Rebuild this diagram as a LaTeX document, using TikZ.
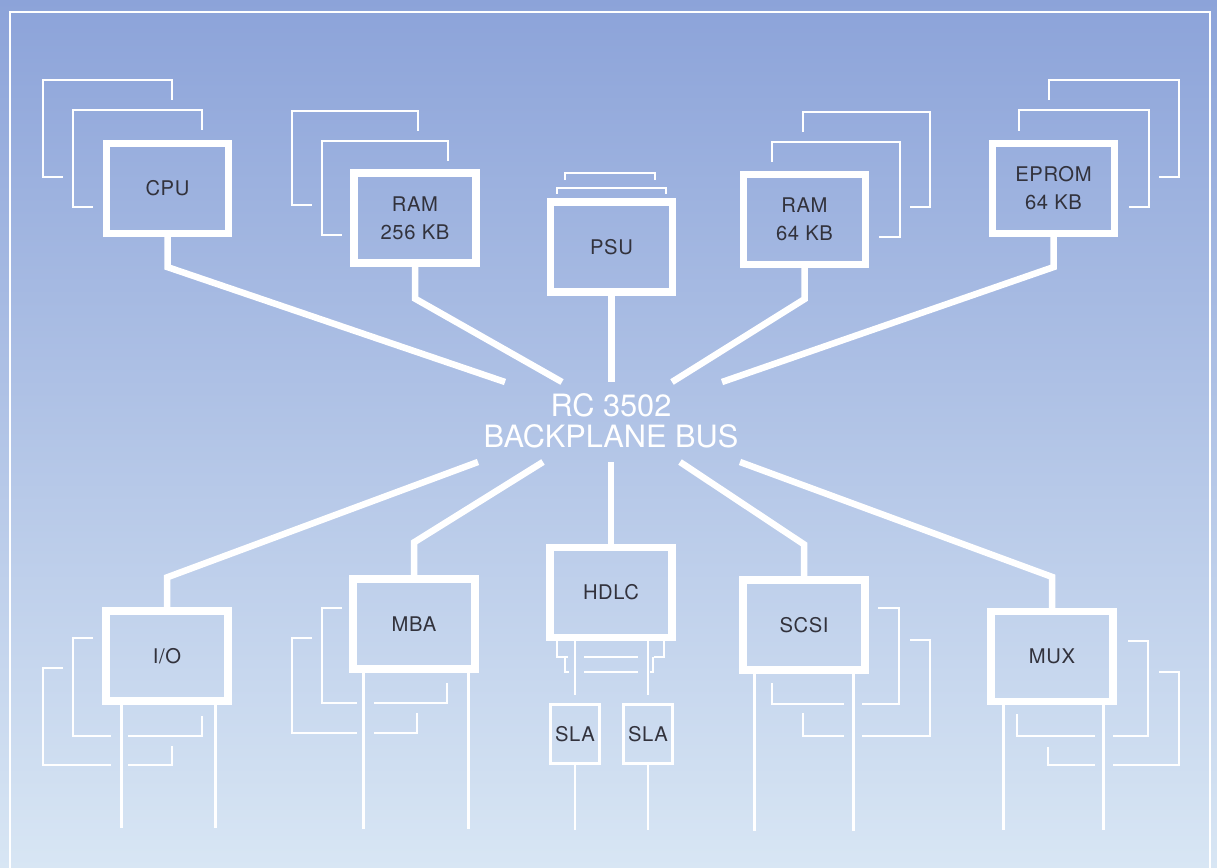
\documentclass[tikz,border=0pt]{standalone}
\usepackage{fontspec}
\setmainfont{TeX Gyre Heros}
\newfontfamily\modfont[LetterSpace=3]{TeX Gyre Heros}
\usepackage{xcolor}
\usepackage{tikz}
\definecolor{bgtop}{RGB}{140,163,217}
\definecolor{bgmid}{RGB}{172,198,234}
\definecolor{bgbot}{RGB}{216,230,244}
\definecolor{labelgrey}{RGB}{50,50,60}

\begin{document}
\begin{tikzpicture}[x=0.02cm, y=-0.02cm,
    modbox/.style={draw=white, line width=0.145cm, minimum width=2.44cm, minimum height=1.8cm,
      inner sep=0pt, text=labelgrey, align=center, font=\modfont\fontsize{11.5}{16}\selectfont},
    slabox/.style={draw=white, line width=0.06cm, minimum width=0.98cm, minimum height=1.18cm,
      inner sep=0pt, text=labelgrey, font=\modfont\fontsize{11.5}{16}\selectfont},
    busline/.style={white, line width=0.13cm, line join=miter},
    backline/.style={white, line width=0.055cm},
    wireline/.style={white, line width=0.055cm}]
    \shade[top color=bgtop, middle color=bgmid, bottom color=bgbot] (0,0) rectangle (1217,868);
    \useasboundingbox (0,0) rectangle (1217,868);
    \draw[white, line width=0.04cm] (10,868) -- (10,12) -- (1210,12) -- (1210,868);

    % upper modules
    \node[modbox] (cpu) at (167.5,188.5) {CPU};
    \node[modbox] (ram1) at (415,218) {RAM\\256 KB};
    \node[modbox] (psu) at (611.5,247) {PSU};
    \node[modbox] (ram2) at (804.5,219.5) {RAM\\64 KB};
    \node[modbox] (eprom) at (1053.5,188.5) {EPROM\\64 KB};

    % lower modules
    \node[modbox] (io) at (167,656) {I/O};
    \node[modbox] (mba) at (414,624) {MBA};
    \node[modbox] (hdlc) at (611,592.5) {HDLC};
    \node[modbox] (scsi) at (804,625) {SCSI};
    \node[modbox] (mux) at (1052,656.5) {MUX};
    \node[slabox] (sla1) at (575,734) {SLA};
    \node[slabox] (sla2) at (648,734) {SLA};

    \node[text=white, align=center, font=\fontsize{17.5}{17.6}\selectfont] (bus) at (611,421) {RC 3502\\BACKPLANE BUS};

    % cards behind
    \draw[backline] (202,130) -- (202,110) -- (73,110) -- (73,207) -- (93,207);
    \draw[backline] (172,100) -- (172,80) -- (43,80) -- (43,177) -- (63,177);
    \draw[backline] (448,161) -- (448,141) -- (322,141) -- (322,235) -- (342,235);
    \draw[backline] (418,131) -- (418,111) -- (292,111) -- (292,205) -- (312,205);
    \draw[backline] (557,194) -- (557,188) -- (666,188) -- (666,194);
    \draw[backline] (565,180) -- (565,173) -- (655,173) -- (655,180);
    \draw[backline] (772,162) -- (772,142) -- (900,142) -- (900,237) -- (879,237);
    \draw[backline] (803,132) -- (803,112) -- (930,112) -- (930,207) -- (910,207);
    \draw[backline] (1019,131) -- (1019,110) -- (1149,110) -- (1149,207) -- (1129,207);
    \draw[backline] (1049,100) -- (1049,80) -- (1179,80) -- (1179,177) -- (1159,177);

    \draw[backline] (93,638) -- (73,638) -- (73,736) -- (111,736) (128,736) -- (202,736) -- (202,716);
    \draw[backline] (63,668) -- (43,668) -- (43,765) -- (111,765) (128,765) -- (172,765) -- (172,746);
    \draw[backline] (342,608) -- (322,608) -- (322,703) -- (357,703) (374,703) -- (447,703) -- (447,683);
    \draw[backline] (312,638) -- (292,638) -- (292,733) -- (357,733) (374,733) -- (417,733) -- (417,713);
    \draw[backline] (557,641) -- (557,657) -- (568,657) (584,657) -- (638,657) (654,657) -- (664,657) -- (664,641);
    \draw[backline] (565,657) -- (565,672) -- (569,672) (584,672) -- (638,672) (650,672) -- (653,672) -- (653,657);
    \draw[backline] (878,608) -- (899,608) -- (899,704) -- (862,704) (844,704) -- (772,704) -- (772,683);
    \draw[backline] (910,640) -- (930,640) -- (930,736) -- (862,736) (844,736) -- (803,736) -- (803,713);
    \draw[backline] (1128,641) -- (1148,641) -- (1148,736) -- (1113,736) (1095,736) -- (1017,736) -- (1017,714);
    \draw[backline] (1159,672) -- (1179,672) -- (1179,765) -- (1113,765) (1095,765) -- (1048,765) -- (1048,747);

    % bus connections
    \coordinate (cpuend) at (505,382);
    \coordinate (ram1end) at (562,382);
    \coordinate (ram2end) at (672,382);
    \coordinate (epromend) at (722,382);
    \coordinate (ioend) at (478,462);
    \coordinate (mbaend) at (543,462);
    \coordinate (scsiend) at (680,462);
    \coordinate (muxend) at (740,462);
    \draw[busline] (cpu.south) -- ++(0,30) -- (cpuend);
    \draw[busline] (ram1.south) -- ++(0,32) -- (ram1end);
    \draw[busline] (psu.south) -- ++(0,86);
    \draw[busline] (ram2.south) -- ++(0,31) -- (ram2end);
    \draw[busline] (eprom.south) -- ++(0,30) -- (epromend);
    \draw[busline] (io.north) -- ++(0,-30) -- (ioend);
    \draw[busline] (mba.north) -- ++(0,-33) -- (mbaend);
    \draw[busline] (hdlc.north) -- ++(0,-82);
    \draw[busline] (scsi.north) -- ++(0,-32) -- (scsiend);
    \draw[busline] (mux.north) -- ++(0,-31) -- (muxend);

    % outgoing lines
    \draw[wireline] ([xshift=0.38cm]io.south west) -- ++(0,123);
    \draw[wireline] ([xshift=-0.32cm]io.south east) -- ++(0,123);
    \draw[wireline] ([xshift=0.28cm]mba.south west) -- ++(0,156);
    \draw[wireline] ([xshift=-0.2cm]mba.south east) -- ++(0,156);
    \draw[wireline] (sla1.north |- hdlc.south) -- ([yshift=0.16cm]sla1.north);
    \draw[wireline] (sla2.north |- hdlc.south) -- ([yshift=0.16cm]sla2.north);
    \draw[wireline] (sla1.south) -- ++(0,65);
    \draw[wireline] (sla2.south) -- ++(0,65);
    \draw[wireline] ([xshift=0.3cm]scsi.south west) -- ++(0,157);
    \draw[wireline] ([xshift=-0.3cm]scsi.south east) -- ++(0,157);
    \draw[wireline] ([xshift=0.32cm]mux.south west) -- ++(0,125);
    \draw[wireline] ([xshift=-0.26cm]mux.south east) -- ++(0,125);
\end{tikzpicture}
\end{document}
